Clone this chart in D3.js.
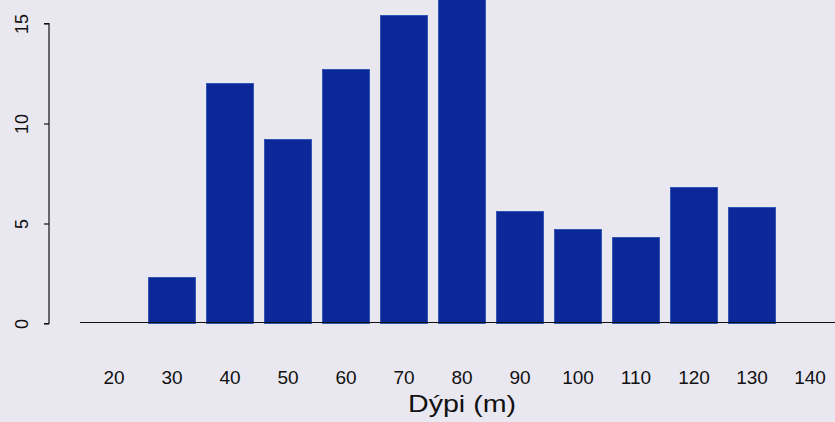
<!DOCTYPE html>
<html>
<head>
<meta charset="utf-8">
<script src="https://cdn.jsdelivr.net/npm/d3@7"></script>
<style>
  html, body { margin: 0; padding: 0; background: #e9e7f0; }
  svg { display: block; font-family: "Liberation Sans", Arial, sans-serif; }
</style>
</head>
<body>
<div id="chart"></div>
<script>
// depth classes (m) and bar heights
var depths = ["20", "30", "40", "50", "60", "70", "80", "90", "100", "110", "120", "130", "140"];
var counts = [0, 2.3, 12.0, 9.2, 12.7, 15.4, 16.6, 5.6, 4.7, 4.3, 6.8, 5.8, 0];
var yTicks = [0, 5, 10, 15];
var xTitle = "Dýpi (m)";

var width = 835, height = 422;

var svg = d3.select("#chart")
  .append("svg")
  .attr("width", width)
  .attr("height", height);

svg.append("rect")
  .attr("width", width)
  .attr("height", height)
  .attr("fill", "#e9e7f0");

var x = d3.scaleBand()
  .domain(depths)
  .range([90.5, 833.5])
  .paddingInner(0.19)
  .paddingOuter(0);

var y = d3.scaleLinear()
  .domain([0, 15])
  .range([323.5, 23.5]);

// bars
svg.selectAll("rect.bar")
  .data(depths.map(function (d, i) { return { depth: d, value: counts[i] }; }))
  .enter()
  .append("rect")
    .attr("class", "bar")
    .attr("x", function (d) { return x(d.depth); })
    .attr("width", x.bandwidth())
    .attr("y", function (d) { return y(d.value); })
    .attr("height", function (d) { return y(0) - y(d.value); })
    .attr("fill", "#0c2797")
    .attr("stroke", "#1f4cb0")
    .attr("stroke-width", 0.8);

// baseline
svg.append("line")
  .attr("x1", 80)
  .attr("x2", width)
  .attr("y1", y(0) - 1)
  .attr("y2", y(0) - 1)
  .attr("stroke", "#111")
  .attr("stroke-width", 1.2);

// y axis, R style
var yAxis = svg.append("g")
  .attr("transform", "translate(49,0)")
  .call(d3.axisLeft(y).tickValues(yTicks).tickSize(5));

yAxis.select(".domain").attr("stroke", "#111").attr("stroke-width", 1.2)
  .attr("d", "M-5," + y(15) + "H0V" + y(0) + "H-5");
yAxis.selectAll(".tick line").attr("stroke", "#111").attr("stroke-width", 1.2);
yAxis.selectAll(".tick text")
  .attr("fill", "#111")
  .style("font-size", "18px")
  .attr("transform", "rotate(-90)")
  .attr("x", 0)
  .attr("y", -21)
  .attr("dy", "0")
  .attr("text-anchor", "middle");

// x axis labels only
var xAxis = svg.append("g")
  .attr("transform", "translate(0,384)")
  .call(d3.axisBottom(x).tickSize(0).tickPadding(0));

xAxis.select(".domain").remove();
xAxis.selectAll(".tick text")
  .attr("fill", "#111")
  .style("font-size", "19px")
  .attr("y", 0)
  .attr("dy", "0");

svg.append("text")
  .attr("x", x("80") + x.bandwidth() / 2)
  .attr("y", 412)
  .attr("text-anchor", "middle")
  .attr("fill", "#111")
  .style("font-size", "24px")
  .attr("textLength", 108)
  .attr("lengthAdjust", "spacingAndGlyphs")
  .text(xTitle);
</script>
</body>
</html>
